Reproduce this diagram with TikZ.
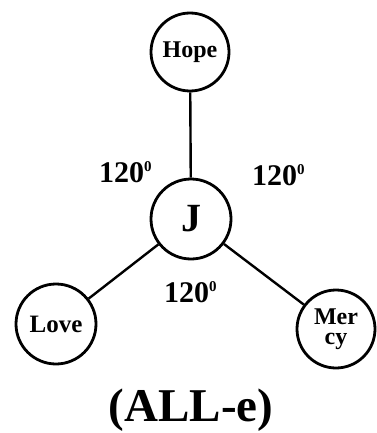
\documentclass[tikz,border=0pt]{standalone}
\usepackage{fontspec}
\setmainfont{Liberation Serif}
\newcommand{\degsup}{\raisebox{11pt}{\fontsize{15}{15}\selectfont 0}}
\begin{document}
\begin{tikzpicture}[x=1pt,y=-1pt,
  circ/.style={circle,draw,line width=2.8pt,minimum size=#1,inner sep=0pt,font=\bfseries\fontsize{24}{20}\selectfont,align=center},
  link/.style={line width=2.4pt},
  ang/.style={anchor=base west,inner sep=0pt,font=\bfseries\fontsize{30}{30}\selectfont}]
\useasboundingbox (0,0) rectangle (376,433);
\node[circ=78pt] (hope) at (190,52) {Hope};
\node[circ=80pt,font=\bfseries\fontsize{40}{40}\selectfont] (j) at (191,219) {J};
\node[circ=80pt,font=\bfseries\fontsize{25}{25}\selectfont] (love) at (56,324) {Love};
\node[circ=78pt] (mercy) at (336,329) {Mer\\cy};
\draw[link] (hope) -- (j);
\draw[link] (j) -- (love);
\draw[link] (j) -- (mercy);
\node[ang] (a1) at (99,182) {120\degsup};
\node[ang] (a2) at (252,185) {120\degsup};
\node[ang] (a3) at (164,302) {120\degsup};
\node[anchor=base,inner sep=0pt,font=\bfseries\fontsize{47}{47}\selectfont] (cap) at (191,421) {(ALL-e)};
\end{tikzpicture}
\end{document}
